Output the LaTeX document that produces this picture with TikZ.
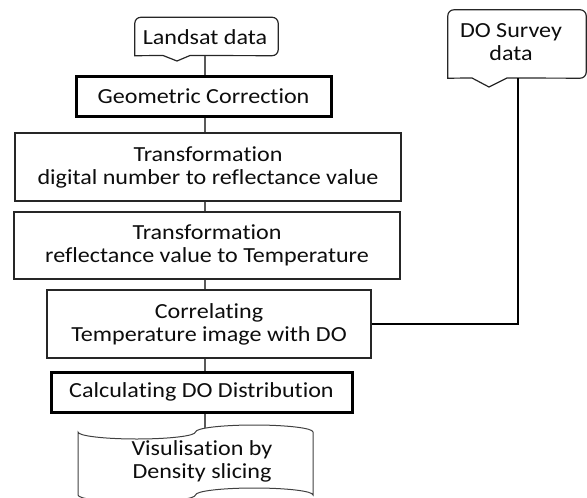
\documentclass[tikz,border=0pt]{standalone}
\usepackage{fontspec}
\setmainfont{Carlito}[FakeStretch=1.12, Ligatures={NoCommon,NoContextual}]
\begin{document}
\begin{tikzpicture}[x=1pt,y=-1pt,
  txt/.style={font=\fontsize{21.5}{23}\selectfont, align=center, inner sep=0pt, text=black!95},
  box/.style={draw=black!85, line width=1.2pt, inner sep=0pt},
  thickbox/.style={draw=black, line width=3pt, inner sep=0pt},
  conn/.style={draw=black!65, line width=1.2pt},
  doline/.style={draw=black, line width=2.6pt},
  ]
\useasboundingbox (0,0) rectangle (587,498);
\coordinate (cx) at (205,0);
% Landsat callout
\node[minimum width=143pt, minimum height=38pt, inner sep=0pt] (landsat) at (206.5,36.5) {};
\draw[box] (landsat.south west) [rounded corners=6pt] -- (landsat.north west) -- (landsat.north east) -- (landsat.south east) [sharp corners] -- (190,55.5) -- (177,61) -- (163,55.5) -- cycle;
\node[txt] (landsattxt) at (205,37) {Landsat data};
% DO survey callout
\node[minimum width=138pt, minimum height=68pt, inner sep=0pt] (dosurvey) at (517,44) {};
\draw[box] (dosurvey.south west) [rounded corners=6pt] -- (dosurvey.north west) -- (dosurvey.north east) -- (dosurvey.south east) [sharp corners] -- (507,78) -- (489,87) -- (472,78) -- cycle;
\node[txt] (dotxt) at (511,42) {DO Survey\\data};
% process boxes
\node[thickbox, txt, minimum width=255pt, minimum height=40pt] (geo) at (203.5,96) {Geometric Correction};
\node[box, txt, minimum width=386pt, minimum height=68pt] (t1) at (208,167) {Transformation\\digital number to reflectance value};
\node[box, txt, minimum width=386pt, minimum height=67pt] (t2) at (207,245.5) {Transformation\\reflectance value to Temperature};
\node[box, txt, minimum width=324pt, minimum height=68pt] (corr) at (209,324) {Correlating\\Temperature image with DO};
\node[thickbox, txt, minimum width=301pt, minimum height=40pt] (calc) at (201.5,392) {Calculating DO Distribution};
% punched tape output
\draw[box, line width=1pt, draw=black!75] (78,432) .. controls (78,435.9) and (104.3,439) .. (136.75,439)
  .. controls (169.2,439) and (195.5,435.9) .. (195.5,432)
  .. controls (195.5,428.1) and (221.8,425) .. (254.25,425)
  .. controls (286.7,425) and (313,428.1) .. (313,432)
  -- (313,495)
  .. controls (313,491.1) and (286.7,488) .. (254.25,488)
  .. controls (221.8,488) and (195.5,491.1) .. (195.5,495)
  .. controls (195.5,498.9) and (169.2,502) .. (136.75,502)
  .. controls (104.3,502) and (78,498.9) .. (78,495) -- cycle;
\node[txt] (vis) at (202,461) {Visulisation by\\Density slicing};
\coordinate (vtop) at (205,428.3);
% connectors
\draw[conn] (landsat.south -| cx) -- (geo.north -| cx);
\draw[conn] (geo.south -| cx) -- (t1.north -| cx);
\draw[conn] (t1.south -| cx) -- (t2.north -| cx);
\draw[conn] (t2.south -| cx) -- (corr.north -| cx);
\draw[conn] (corr.south -| cx) -- (calc.north -| cx);
\draw[conn] (calc.south -| cx) -- (vtop);
\draw[doline] (dosurvey.south -| 518,0) |- (corr.east);
\end{tikzpicture}
\end{document}
